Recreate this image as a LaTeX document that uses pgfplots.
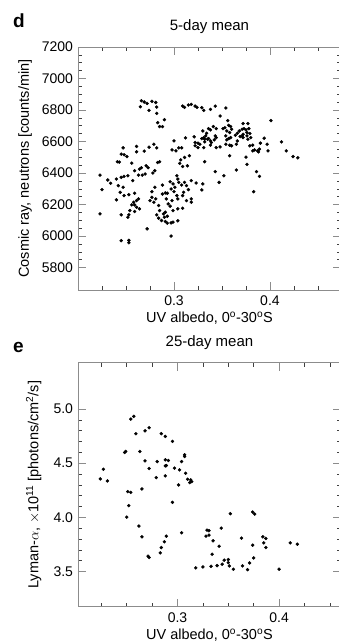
\documentclass[border=0pt]{standalone}
\usepackage{pgfplots}
\pgfplotsset{compat=1.18}
\usepackage{fontspec}
\setmainfont{Liberation Sans}

\pgfplotsset{
  myax/.style={
    scale only axis,
    width=263pt,
    scaled ticks=false,
    font=\fontsize{14.5}{16}\selectfont,
    tick label style={font=\fontsize{14}{16}\selectfont},
    title style={font=\fontsize{15}{17}\selectfont},
    /pgf/number format/assume math mode=true,
    axis line style={black!45, line width=0.9pt},
    major tick length=8pt,
    minor tick length=4pt,
    major tick style={black!45, line width=0.9pt},
    minor tick style={black!75, line width=0.6pt},
    tick align=inside,
    xticklabel style={yshift=-2pt},
    clip=false,
  },
}

\pgfplotstableread{
x y
0.266 6859
0.269 6851
0.272 6842
0.265 6821
0.277 6855
0.281 6848
0.274 6798
0.282 6819
0.282 6779
0.283 6720
0.285 6695
0.288 6695
0.290 6739
0.309 6825
0.311 6817
0.315 6832
0.318 6836
0.322 6825
0.324 6817
0.300 6604
0.312 6623
0.321 6630
0.322 6594
0.325 6590
0.247 6560
0.261 6569
0.261 6535
0.269 6539
0.274 6564
0.279 6583
0.282 6560
0.245 6520
0.248 6516
0.251 6505
0.298 6547
0.302 6541
0.305 6560
0.308 6560
0.322 6573
0.325 6562
0.316 6510
0.311 6499
0.241 6472
0.243 6470
0.256 6463
0.283 6467
0.285 6472
0.307 6484
0.306 6461
0.309 6442
0.314 6446
0.271 6446
0.273 6434
0.266 6434
0.264 6425
0.259 6415
0.263 6387
0.267 6387
0.270 6394
0.278 6400
0.280 6415
0.252 6383
0.248 6379
0.245 6373
0.257 6352
0.240 6362
0.234 6335
0.231 6356
0.223 6387
0.303 6383
0.304 6362
0.242 6320
0.247 6310
0.225 6295
0.244 6278
0.248 6257
0.253 6263
0.259 6272
0.263 6236
0.261 6225
0.258 6215
0.277 6282
0.280 6310
0.288 6324
0.291 6274
0.293 6272
0.296 6345
0.299 6331
0.300 6282
0.305 6341
0.308 6324
0.311 6341
0.313 6320
0.315 6295
0.318 6352
0.323 6337
0.310 6278
0.309 6257
0.301 6310
0.297 6299
0.288 6267
0.281 6236
0.277 6246
0.275 6225
0.240 6230
0.259 6198
0.256 6198
0.261 6183
0.264 6173
0.254 6162
0.259 6156
0.253 6135
0.245 6135
0.252 6120
0.223 6141
0.279 6215
0.284 6194
0.292 6236
0.294 6204
0.296 6190
0.298 6225
0.303 6257
0.304 6236
0.313 6225
0.318 6215
0.318 6236
0.291 6152
0.289 6141
0.285 6162
0.282 6135
0.284 6114
0.287 6099
0.291 6093
0.293 6082
0.297 6084
0.299 6089
0.304 6097
0.299 6162
0.304 6173
0.309 6177
0.293 6126
0.290 6120
0.272 6046
0.297 6000
0.245 5971
0.253 5973
0.253 5958
0.329 6815
0.331 6798
0.338 6804
0.343 6825
0.354 6813
0.348 6762
0.356 6733
0.401 6733
0.372 6714
0.377 6714
0.341 6695
0.344 6682
0.336 6682
0.338 6674
0.330 6667
0.334 6653
0.333 6636
0.331 6625
0.329 6619
0.332 6615
0.336 6619
0.343 6636
0.344 6625
0.342 6611
0.338 6604
0.339 6594
0.335 6615
0.332 6598
0.351 6682
0.353 6688
0.357 6703
0.359 6695
0.360 6678
0.355 6667
0.358 6657
0.354 6636
0.357 6619
0.359 6625
0.355 6611
0.354 6583
0.358 6577
0.360 6573
0.364 6640
0.366 6653
0.368 6667
0.371 6678
0.373 6682
0.375 6674
0.372 6646
0.378 6682
0.376 6657
0.379 6651
0.380 6625
0.377 6615
0.376 6636
0.369 6632
0.372 6625
0.366 6604
0.371 6636
0.327 6583
0.331 6562
0.338 6577
0.344 6562
0.348 6566
0.365 6583
0.379 6573
0.382 6577
0.390 6590
0.394 6621
0.397 6583
0.382 6541
0.384 6547
0.387 6541
0.389 6552
0.388 6535
0.398 6541
0.412 6598
0.417 6541
0.424 6505
0.429 6497
0.358 6510
0.375 6501
0.332 6472
0.376 6455
0.365 6419
0.343 6409
0.386 6409
0.352 6383
0.389 6379
0.347 6341
0.330 6331
0.329 6293
0.383 6282
}\fiveday

\pgfplotstableread{
x y
0.254 4.907
0.257 4.932
0.259 4.772
0.268 4.799
0.272 4.827
0.284 4.772
0.288 4.747
0.295 4.701
0.248 4.599
0.249 4.608
0.263 4.608
0.268 4.522
0.272 4.451
0.280 4.515
0.288 4.531
0.291 4.525
0.288 4.475
0.289 4.478
0.288 4.383
0.279 4.367
0.297 4.454
0.302 4.438
0.304 4.515
0.307 4.577
0.307 4.562
0.308 4.407
0.301 4.299
0.310 4.352
0.313 4.346
0.314 4.330
0.312 4.321
0.227 4.444
0.224 4.355
0.231 4.336
0.251 4.238
0.254 4.231
0.265 4.262
0.252 4.108
0.250 4.003
0.295 4.139
0.262 3.920
0.265 3.821
0.289 3.827
0.287 3.775
0.284 3.722
0.283 3.673
0.271 3.642
0.272 3.630
0.304 3.858
0.318 3.534
0.325 3.543
0.333 3.549
0.339 3.555
0.344 3.568
0.346 3.605
0.350 3.611
0.350 3.583
0.351 3.552
0.355 3.522
0.364 3.552
0.369 3.518
0.371 3.580
0.375 3.626
0.400 3.522
0.334 3.660
0.341 3.734
0.335 3.784
0.329 3.883
0.331 3.877
0.328 3.827
0.331 3.836
0.343 3.901
0.352 4.034
0.374 4.049
0.376 4.031
0.363 3.809
0.374 3.744
0.384 3.821
0.387 3.806
0.385 3.765
0.387 3.722
0.411 3.765
0.418 3.753
}\twentyfiveday

\begin{document}
\begin{tikzpicture}
\useasboundingbox (0,0) rectangle (338pt,-644pt);

\node[font=\fontsize{19}{21}\selectfont\bfseries, anchor=base west, inner sep=0pt] at (13pt,-28pt) {d};
\node[font=\fontsize{19}{21}\selectfont\bfseries, anchor=base west, inner sep=0pt] at (13pt,-352.7pt) {e};

\begin{axis}[myax,
  at={(78pt,-47pt)}, anchor=north west,
  height=243pt,
  xmin=0.2, xmax=0.474,
  ymin=5658, ymax=7200,
  xtick={0.3,0.4},
  minor xtick={0.225,0.25,0.275,0.325,0.35,0.375,0.425,0.45},
  ytick={5800,6000,6200,6400,6600,6800,7000,7200},
  minor y tick num=3,
  xticklabel style={/pgf/number format/fixed, /pgf/number format/precision=1},
  yticklabel style={/pgf/number format/1000 sep={}, xshift=-1.5pt},
  title={5-day mean},
  title style={at={(axis description cs:0.5,1.058)}, anchor=center},
  xlabel={UV albedo, 0\textsuperscript{o}-30\textsuperscript{o}S},
  xlabel style={at={(axis description cs:0.5,-0.115)}, anchor=center},
  ylabel={Cosmic ray, neutrons [counts/min]},
  ylabel style={at={(axis description cs:-0.201,0.5)}, anchor=center},
]
\addplot[only marks, mark=*, mark size=1.5pt, black] table[x=x, y=y] {\fiveday};
\end{axis}

\begin{axis}[myax,
  at={(78pt,-362.7pt)}, anchor=north west,
  height=244pt,
  xmin=0.202, xmax=0.461,
  ymin=3.176, ymax=5.427,
  xtick={0.3,0.4},
  minor xtick={0.225,0.25,0.275,0.325,0.35,0.375,0.425,0.45},
  ytick={3.5,4.0,4.5,5.0},
  minor y tick num=4,
  xticklabel style={/pgf/number format/fixed, /pgf/number format/precision=1},
  yticklabel style={/pgf/number format/fixed, /pgf/number format/fixed zerofill, /pgf/number format/precision=1, xshift=-1.5pt},
  title={25-day mean},
  title style={at={(axis description cs:0.5,1.056)}, anchor=center},
  xlabel={UV albedo, 0\textsuperscript{o}-30\textsuperscript{o}S},
  xlabel style={at={(axis description cs:0.5,-0.116)}, anchor=center},
  ylabel={Lyman-$\alpha$, $\times$10\textsuperscript{11} [photons/cm\textsuperscript{2}/s]},
  ylabel style={at={(axis description cs:-0.168,0.5)}, anchor=center},
]
\addplot[only marks, mark=*, mark size=1.5pt, black] table[x=x, y=y] {\twentyfiveday};
\end{axis}
\end{tikzpicture}
\end{document}
